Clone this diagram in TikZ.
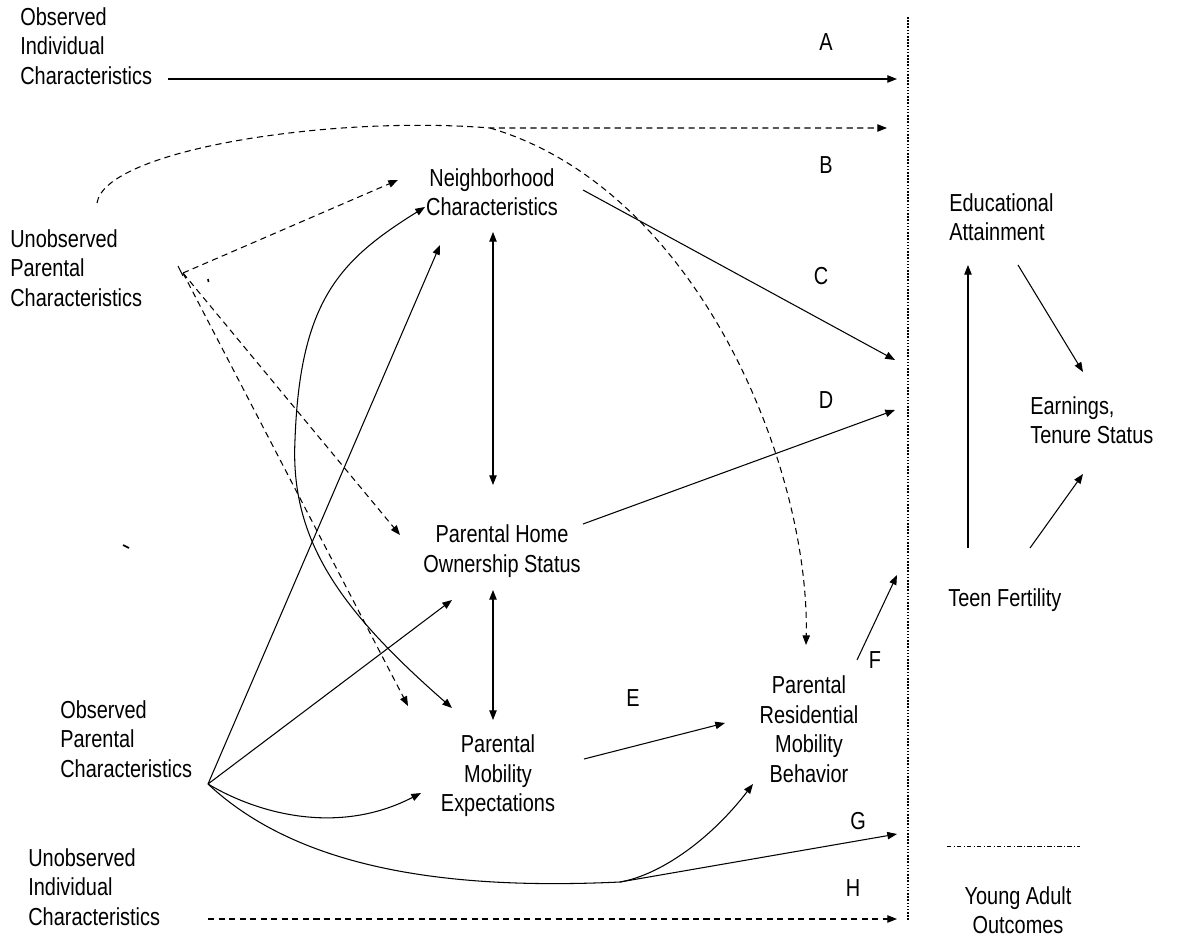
\documentclass[tikz,border=0pt]{standalone}
\usepackage{fontspec}
\setmainfont[FakeStretch=0.81]{Liberation Sans}
\usepackage{tikz}
\usetikzlibrary{arrows.meta}

\begin{document}
\begin{tikzpicture}[x=0.02cm, y=-0.02cm,
  >={Triangle[length=5.5pt,width=4.2pt]},
  every node/.style={inner sep=0pt, font=\fontsize{14}{16.8}\selectfont},
  txt/.style={align=left, anchor=west},
  box/.style={align=center},
  link/.style={line width=0.6pt, ->},
  hidden/.style={link, dash pattern=on 3.5pt off 2.5pt},
  twoway/.style={line width=0.6pt, <->}]
\fill[white] (0,0) rectangle (1177,943);
\useasboundingbox (0,0) rectangle (1177,943);

% left hand sources
\node[txt] (obsIndiv) at (20,46) {Observed\\Individual\\Characteristics};
\node[txt] (unobsParent) at (10,268) {Unobserved\\Parental\\Characteristics};
\node[txt] (obsParent) at (60,739) {Observed\\Parental\\Characteristics};
\node[txt] (unobsIndiv) at (28,887) {Unobserved\\Individual\\Characteristics};

% middle boxes
\node[box] (nbhd) at (492,192) {Neighborhood\\Characteristics};
\node[box] (homeOwn) at (502,551) {Parental Home\\Ownership Status};
\node[box] (mobExp) at (498,776) {Parental\\Mobility\\Expectations};
\node[box] (resMob) at (809,729) {Parental\\Residential\\Mobility\\Behavior};

% outcomes
\node[txt] (eduAtt) at (949,217) {Educational\\Attainment};
\node[txt] (earnTen) at (1030,420) {Earnings,\\Tenure Status};
\node[txt] (teenFert) at (948,600) {Teen Fertility};
\node[box] (youngAdult) at (1018,910) {Young Adult\\Outcomes};

% path letters
\node (labA) at (826,42) {A};
\node (labB) at (826,165) {B};
\node (labC) at (821,276) {C};
\node (labD) at (826,400) {D};
\node (labE) at (633,698) {E};
\node (labF) at (875,660) {F};
\node (labG) at (858,821) {G};
\node (labH) at (853,888) {H};

% end points
\coordinate (oiE) at (168,79);
\coordinate (upArc) at (97,203);
\coordinate (upE) at (183,273);
\coordinate (split) at (490,128);
\coordinate (hub) at (208,784);
\coordinate (dip) at (620,882);
\coordinate (uiE) at (208,919);
\coordinate (nbIn1) at (398,180);
\coordinate (nbIn2) at (425,207);
\coordinate (nbIn3) at (440,245);
\coordinate (nbS) at (493,232);
\coordinate (nbE) at (583,190);
\coordinate (hoN) at (493,485);
\coordinate (hoIn1) at (400,535);
\coordinate (hoIn2) at (452,600);
\coordinate (hoS) at (493,590);
\coordinate (hoE) at (583,524);
\coordinate (meN) at (493,720);
\coordinate (meIn1) at (408,706);
\coordinate (meIn2) at (452,708);
\coordinate (meIn3) at (421,793);
\coordinate (meE) at (584,759);
\coordinate (rmIn1) at (725,723);
\coordinate (rmIn2) at (806,645);
\coordinate (rmIn3) at (753,784);
\coordinate (rmE) at (857,660);
\coordinate (endA) at (897,79);
\coordinate (endB) at (887,128);
\coordinate (endC) at (895,360);
\coordinate (endD) at (895,410);
\coordinate (endF) at (897,575);
\coordinate (endG) at (897,834);
\coordinate (endH) at (897,919);
\coordinate (eaS) at (968,265);
\coordinate (eaE) at (1018,265);
\coordinate (etN) at (1083,372);
\coordinate (etS) at (1083,474);
\coordinate (tfN) at (968,548);
\coordinate (tfE) at (1030,548);

% divider and outcome rule
\draw[line width=1pt, dash pattern=on 0.9pt off 0.9pt] (908,17) -- (908,920);
\draw[line width=0.5pt, dash pattern=on 2.5pt off 1.3pt on 0.6pt off 1.3pt] (947,846) -- (1080,846);

% observed / unobserved individual
\draw[link] (oiE) -- (endA);
\draw[hidden] (uiE) -- (endH);

% unobserved parental
\draw[hidden] (upArc) .. controls (105,150) and (330,115) .. (split) -- (endB);
\draw[hidden] (split) .. controls (700,190) and (810,470) .. (rmIn2);
\draw[hidden] (upE) -- (nbIn1);
\draw[hidden] (upE) -- (hoIn1);
\draw[hidden] (upE) -- (meIn1);

% observed parental
\draw[link] (hub) -- (nbIn3);
\draw[link] (hub) -- (hoIn2);
\draw[link] (hub) .. controls (260,815) and (340,835) .. (meIn3);
\draw[line width=0.6pt] (hub) .. controls (300,870) and (450,890) .. (dip);
\draw[link] (dip) .. controls (660,875) and (710,840) .. (rmIn3);
\draw[link] (dip) -- (endG);

% between the boxes
\draw[twoway] (meIn2) .. controls (340,610) and (290,540) .. (295,440)
  .. controls (300,300) and (340,260) .. (nbIn2);
\draw[twoway] (nbS) -- (hoN);
\draw[twoway] (hoS) -- (meN);
\draw[link] (meE) -- (rmIn1);

% into the outcomes
\draw[link] (nbE) -- (endC);
\draw[link] (hoE) -- (endD);
\draw[link] (rmE) -- (endF);
\draw[link] (tfN) -- (eaS);
\draw[link] (eaE) -- (etN);
\draw[link] (tfE) -- (etS);

% stray marks
\draw[line width=0.6pt] (178,266) -- (183,276);
\draw[line width=0.9pt] (208,279) -- (208.5,282);
\draw[line width=0.9pt] (123,545) -- (129,548);
\end{tikzpicture}
\end{document}
